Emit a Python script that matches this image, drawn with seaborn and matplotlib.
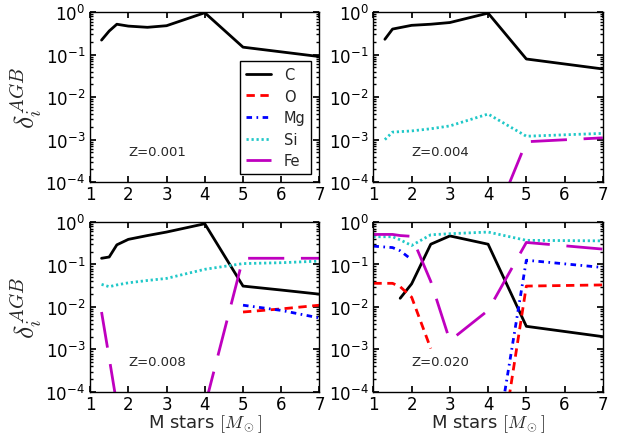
import numpy as np
import pandas as pd
import matplotlib
matplotlib.use("Agg")
import matplotlib.pyplot as plt
from matplotlib.lines import Line2D
import seaborn as sns

# element order, colours and line styles
elements = ["C", "O", "Mg", "Si", "Fe"]
colors = {"C": "#000000", "O": "#FF0000", "Mg": "#0000FF", "Si": "#20C8C8", "Fe": "#BF00BF"}
dash_map = {"C": "", "O": (3, 2), "Mg": (2, 1.6, 0.6, 1.6), "Si": (0.8, 1), "Fe": (13, 6)}

# Z = 0.001 (only carbon is non-zero)
mass_z001 = [1.3, 1.5, 1.7, 2.0, 2.5, 3.0, 4.0, 5.0, 7.0]
c_z001 = [0.22, 0.36, 0.52, 0.47, 0.44, 0.48, 0.97, 0.15, 0.09]

# Z = 0.004
mass_z004 = [1.3, 1.5, 2.0, 2.5, 3.0, 4.0, 5.0, 7.0]
c_z004 = [0.23, 0.40, 0.49, 0.52, 0.57, 0.95, 0.079, 0.046]
si_z004 = [1.0e-3, 1.5e-3, 1.6e-3, 1.8e-3, 2.1e-3, 4.0e-3, 1.2e-3, 1.4e-3]
fe_z004 = [0, 0, 0, 0, 0, 5.6e-6, 8.9e-4, 1.1e-3]

# Z = 0.008
mass_z008 = [1.3, 1.5, 1.7, 2.0, 2.5, 3.0, 4.0, 5.0, 6.0, 7.0]
c_z008 = [0.14, 0.15, 0.29, 0.39, 0.48, 0.58, 0.91, 0.031, 0.025, 0.020]
o_z008 = [0, 0, 0, 0, 0, 0, 0, 7.6e-3, 9.0e-3, 0.011]
mg_z008 = [0, 0, 0, 0, 0, 0, 0, 0.011, 8.3e-3, 5.5e-3]
si_z008 = [0.034, 0.030, 0.033, 0.037, 0.042, 0.047, 0.077, 0.105, 0.11, 0.12]
fe_z008 = [7.6e-3, 6.3e-4, 5e-5, 0, 0, 0, 4.5e-5, 0.14, 0.14, 0.14]

# Z = 0.020
mass_z020 = [1.0, 1.5, 1.7, 2.0, 2.5, 3.0, 4.0, 5.0, 7.0]
c_z020 = [0, 0, 0.016, 0.035, 0.30, 0.47, 0.30, 3.5e-3, 2.0e-3]
o_z020 = [0.036, 0.036, 0.030, 0.017, 1.05e-3, 0, 5e-8, 0.031, 0.033]
mg_z020 = [0.27, 0.25, 0.21, 0.13, 0, 0, 4e-7, 0.126, 0.085]
si_z020 = [0.45, 0.45, 0.38, 0.28, 0.50, 0.53, 0.58, 0.37, 0.36]
fe_z020 = [0.51, 0.51, 0.48, 0.46, 0.04, 1.6e-3, 8.3e-3, 0.33, 0.23]

panels = [
    ("Z=0.001", mass_z001, {"C": c_z001}),
    ("Z=0.004", mass_z004, {"C": c_z004, "Si": si_z004, "Fe": fe_z004}),
    ("Z=0.008", mass_z008, {"C": c_z008, "O": o_z008, "Mg": mg_z008, "Si": si_z008, "Fe": fe_z008}),
    ("Z=0.020", mass_z020, {"C": c_z020, "O": o_z020, "Mg": mg_z020, "Si": si_z020, "Fe": fe_z020}),
]


# zero values are masked on a log axis -> split each series into runs
def build_frame(mass, series):
    rows = []
    seg = 0
    for el, vals in series.items():
        prev_ok = False
        for m, v in zip(mass, vals):
            if v > 0:
                if not prev_ok:
                    seg += 1
                rows.append((el, seg, m, v))
                prev_ok = True
            else:
                prev_ok = False
    return pd.DataFrame(rows, columns=["element", "seg", "mass", "delta"])


sns.set_theme(style="ticks", color_codes=False)
plt.rcParams["font.family"] = ["DejaVu Sans"]
plt.rcParams["mathtext.fontset"] = "cm"
plt.rcParams["axes.edgecolor"] = "black"
plt.rcParams["axes.linewidth"] = 1.0

fig, axes = plt.subplots(2, 2, figsize=(6.17, 4.39), dpi=100)
fig.subplots_adjust(left=0.146, right=0.977, bottom=0.105, top=0.970, wspace=0.235, hspace=0.235)

for ax, (label, mass, series) in zip(axes.flat, panels):
    df = build_frame(mass, series)
    order = [e for e in elements if e in df["element"].unique()]
    ax.set_yscale("log", nonpositive="mask")
    sns.lineplot(data=df, x="mass", y="delta", hue="element", style="element",
                 units="seg", estimator=None, sort=False,
                 hue_order=order, style_order=order,
                 palette=colors, dashes=dash_map, lw=2, legend=False, ax=ax)
    ax.set_xlim(1, 7)
    ax.set_ylim(1e-4, 1)
    ax.set_xticks(range(1, 8))
    ax.tick_params(which="both", direction="in", top=True, right=True,
                   labelsize=12, colors="black")
    ax.tick_params(which="major", length=4)
    ax.tick_params(which="minor", length=2)
    ax.tick_params(axis="x", pad=2)
    ax.text(0.165, 0.18, label, transform=ax.transAxes, fontsize=9.5, va="center")
    ax.set_xlabel("")
    ax.set_ylabel("")

for ax in axes[:, 0]:
    ax.set_ylabel(r"$\delta_i^{AGB}$", fontsize=20, labelpad=1)
for ax in axes[1, :]:
    ax.set_xlabel(r"M stars $[M_\odot]$", fontsize=13, labelpad=0)

# legend lives in the first panel
handles = [Line2D([], [], color=colors[e], lw=2,
                  dashes=dash_map[e] if dash_map[e] else (None, None)) for e in elements]
axes[0, 0].legend(handles, elements, loc="lower right", fontsize=10.5, frameon=True,
                  fancybox=False, edgecolor="black", framealpha=1, borderaxespad=0.55,
                  handlelength=1.7, handletextpad=0.9, labelspacing=0.45, borderpad=0.4)

fig.savefig("out.png", dpi=100)
